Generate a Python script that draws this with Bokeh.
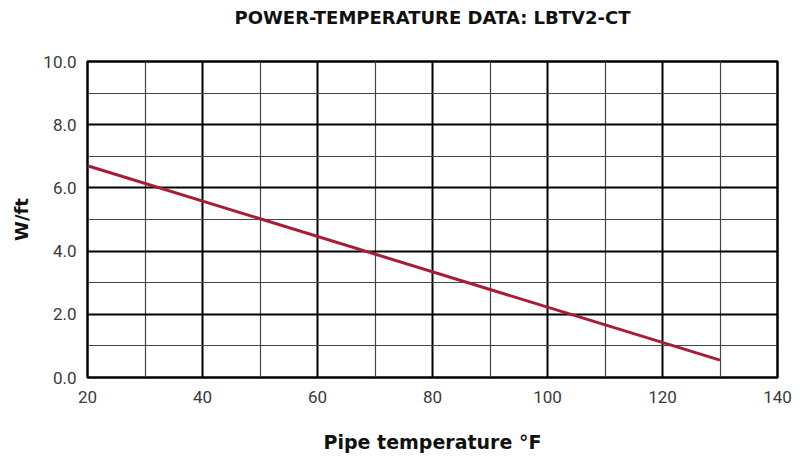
from bokeh.plotting import figure
from bokeh.layouts import column
from bokeh.models import Range1d, FixedTicker, PrintfTickFormatter
from bokeh.core.properties import value
from bokeh.embed import file_html
from bokeh.resources import INLINE

# Data
temp_f = [20, 130]
watts_per_ft = [6.7, 0.55]
x_ticks = [20, 40, 60, 80, 100, 120, 140]
y_ticks = [0, 2, 4, 6, 8, 10]
x_minor = [30, 50, 70, 90, 110, 130]
y_minor = [1, 3, 5, 7, 9]
title_text = "POWER-TEMPERATURE DATA: LBTV2-CT"

FW, FH = 690, 316
LEFT, RIGHT = 87, 15
TITLE_H = 34

# Title strip
pt = figure(frame_width=FW, frame_height=TITLE_H, output_backend="svg", toolbar_location=None,
            x_range=Range1d(0, 1), y_range=Range1d(0, 1), x_axis_type=None, y_axis_type=None,
            min_border_left=LEFT, min_border_right=RIGHT, min_border_top=0, min_border_bottom=0)
pt.outline_line_color = None
pt.text(x=[0.5], y=[0.5], text=[title_text], text_align="center", text_baseline="middle",
        text_font=value("DejaVu Sans"), text_font_size="18px", text_font_style="bold",
        text_color="#111111")

# Main chart
p = figure(frame_width=FW, frame_height=FH, output_backend="svg", toolbar_location=None,
           x_range=Range1d(20, 140), y_range=Range1d(0, 10),
           min_border_left=LEFT, min_border_right=RIGHT, min_border_top=61 - TITLE_H,
           min_border_bottom=10)

p.line(temp_f, watts_per_ft, line_color="#a51e36", line_width=3)

for ax in (p.xaxis, p.yaxis):
    ax.axis_line_color = None
    ax.major_tick_line_color = None
    ax.minor_tick_line_color = None
    ax.major_tick_out = 0
    ax.major_tick_in = 0
    ax.minor_tick_out = 0
    ax.minor_tick_in = 0
    ax.major_label_text_font = "Roboto"
    ax.major_label_text_font_size = "17px"
    ax.major_label_text_color = "#3a3a3a"
    ax.axis_label_text_font = "DejaVu Sans"
    ax.axis_label_text_font_size = "19px"
    ax.axis_label_text_font_style = "bold"
    ax.axis_label_text_color = "#111111"

p.yaxis.axis_label_text_font_size = "18px"

p.xaxis.ticker = FixedTicker(ticks=x_ticks, minor_ticks=x_minor)
p.yaxis.ticker = FixedTicker(ticks=y_ticks, minor_ticks=y_minor)
p.yaxis.formatter = PrintfTickFormatter(format="%.1f")
p.xaxis.major_label_standoff = 13
p.yaxis.major_label_standoff = 11
p.xaxis.axis_label = "Pipe temperature °F"
p.yaxis.axis_label = "W/ft"
p.xaxis.axis_label_standoff = 25
p.yaxis.axis_label_standoff = 8

p.grid.grid_line_color = "#000000"
p.grid.grid_line_width = 2
p.grid.grid_line_alpha = 1
p.grid.minor_grid_line_color = "#444444"
p.grid.minor_grid_line_width = 1.2

p.outline_line_color = "#000000"
p.outline_line_width = 2.5
p.background_fill_color = "white"
p.border_fill_color = "white"

layout = column(pt, p, spacing=0)
open("out.html", "w").write(file_html(layout, INLINE))
